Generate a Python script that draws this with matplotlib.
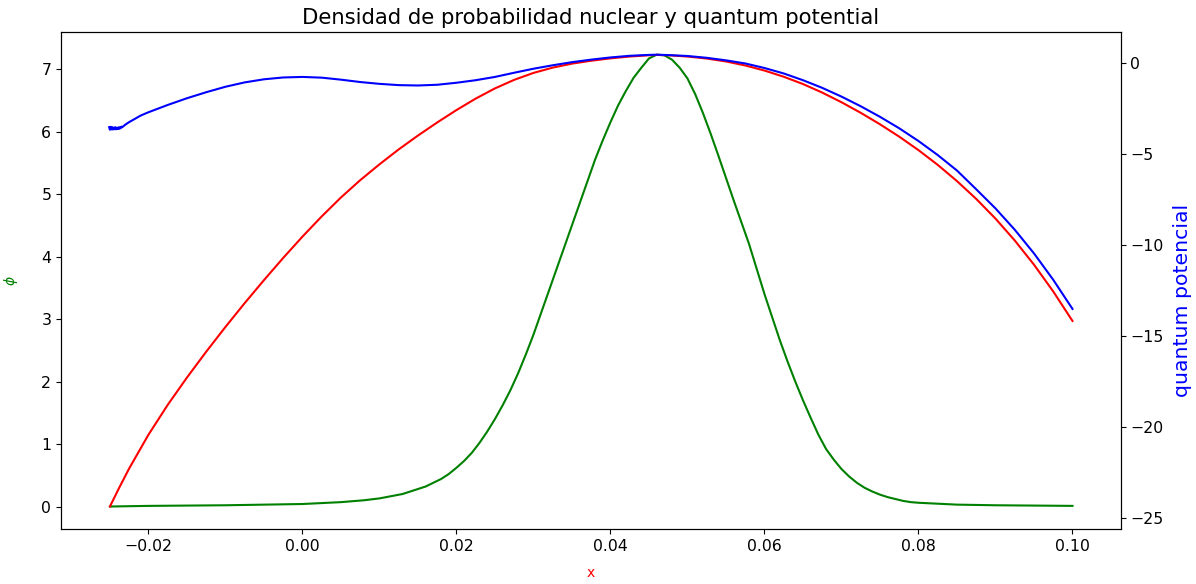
import numpy as np
import matplotlib
matplotlib.use('Agg')
import matplotlib.pyplot as plt

# densidad (eje izquierdo)
x_phi = [-0.025, -0.020, -0.010, 0.000, 0.005, 0.008, 0.010, 0.013, 0.016, 0.017,
         0.018, 0.019, 0.020, 0.021, 0.022, 0.023, 0.024, 0.025, 0.026, 0.027,
         0.028, 0.029, 0.030, 0.031, 0.032, 0.033, 0.034, 0.035, 0.036, 0.037,
         0.038, 0.039, 0.040, 0.041, 0.042, 0.043, 0.044, 0.045, 0.046, 0.047,
         0.048, 0.049, 0.050, 0.051, 0.052, 0.053, 0.054, 0.055, 0.056, 0.057,
         0.058, 0.059, 0.060, 0.061, 0.062, 0.063, 0.064, 0.065, 0.066, 0.067,
         0.068, 0.069, 0.070, 0.071, 0.072, 0.073, 0.074, 0.075, 0.076, 0.077,
         0.078, 0.079, 0.080, 0.085, 0.090, 0.100]
phi = [0.00, 0.01, 0.02, 0.04, 0.07, 0.10, 0.13, 0.20, 0.32, 0.38,
       0.44, 0.52, 0.62, 0.73, 0.86, 1.02, 1.20, 1.40, 1.62, 1.86,
       2.13, 2.43, 2.75, 3.10, 3.45, 3.80, 4.15, 4.50, 4.85, 5.20,
       5.55, 5.86, 6.15, 6.42, 6.65, 6.86, 7.02, 7.17, 7.23, 7.22,
       7.15, 7.02, 6.85, 6.60, 6.30, 5.97, 5.62, 5.26, 4.90, 4.55,
       4.20, 3.80, 3.40, 3.03, 2.66, 2.32, 2.00, 1.70, 1.42, 1.15,
       0.92, 0.75, 0.60, 0.48, 0.38, 0.30, 0.24, 0.19, 0.15, 0.12,
       0.09, 0.07, 0.06, 0.03, 0.02, 0.01]

# curva roja (eje derecho)
x_red = [-0.0250, -0.02375, -0.0225, -0.0200, -0.0175, -0.0150, -0.0125, -0.0100,
         -0.0075, -0.0050, -0.0025, 0.0000, 0.0025, 0.0050, 0.0075, 0.0100,
         0.0125, 0.0150, 0.0175, 0.0200, 0.0225, 0.0250, 0.0275, 0.0300,
         0.0325, 0.0350, 0.0375, 0.0400, 0.0425, 0.0450, 0.0461, 0.0475,
         0.0500, 0.0525, 0.0550, 0.0575, 0.0600, 0.0625, 0.0650, 0.0675,
         0.0700, 0.0725, 0.0750, 0.0775, 0.0800, 0.0825, 0.0850, 0.0875,
         0.0900, 0.0925, 0.0950, 0.0975, 0.1000]
red = [-24.35, -23.28, -22.26, -20.41, -18.77, -17.27, -15.85, -14.49,
       -13.18, -11.92, -10.70, -9.53, -8.42, -7.38, -6.43, -5.56,
       -4.74, -3.98, -3.26, -2.58, -1.95, -1.39, -0.92, -0.54,
       -0.25, -0.03, 0.13, 0.26, 0.36, 0.43, 0.45, 0.43,
       0.36, 0.25, 0.09, -0.13, -0.41, -0.75, -1.15, -1.62,
       -2.15, -2.73, -3.36, -4.04, -4.78, -5.59, -6.48, -7.46,
       -8.54, -9.74, -11.07, -12.54, -14.16]

# quantum potential (eje derecho), con el ruido del principio
x_qp = [-0.0251, -0.0250, -0.0249, -0.0248, -0.0247, -0.0246, -0.0245, -0.0244,
        -0.0243, -0.0242, -0.0241, -0.0240, -0.0239, -0.0238, -0.0237, -0.0236,
        -0.0235, -0.0234, -0.0232, -0.0230,
        -0.0225, -0.0220, -0.0210, -0.0200, -0.0175, -0.0150, -0.0125, -0.0100,
        -0.0075, -0.0050, -0.0025, 0.0000, 0.0025, 0.0050, 0.0075, 0.0100,
        0.0125, 0.0150, 0.0175, 0.0200, 0.0225, 0.0250, 0.0275, 0.0300,
        0.0325, 0.0350, 0.0375, 0.0400, 0.0425, 0.0450, 0.0461, 0.0475,
        0.0500, 0.0525, 0.0550, 0.0575, 0.0600, 0.0625, 0.0650, 0.0675,
        0.0700, 0.0725, 0.0750, 0.0775, 0.0800, 0.0825, 0.0850, 0.0875,
        0.0900, 0.0925, 0.0950, 0.0975, 0.1000]
qp = [-3.52, -3.66, -3.50, -3.64, -3.52, -3.65, -3.54, -3.63,
      -3.52, -3.64, -3.55, -3.62, -3.53, -3.61, -3.52, -3.58,
      -3.49, -3.52, -3.45, -3.38,
      -3.24, -3.12, -2.88, -2.70, -2.30, -1.93, -1.60, -1.30,
      -1.06, -0.89, -0.79, -0.76, -0.80, -0.91, -1.04, -1.14,
      -1.21, -1.23, -1.19, -1.08, -0.94, -0.76, -0.53, -0.31,
      -0.12, 0.05, 0.19, 0.31, 0.40, 0.45, 0.46, 0.44,
      0.39, 0.29, 0.15, -0.02, -0.27, -0.57, -0.94, -1.36,
      -1.84, -2.37, -2.95, -3.58, -4.28, -5.05, -5.90, -6.93,
      -7.98, -9.15, -10.45, -11.90, -13.50]

fig, ax = plt.subplots(figsize=(11.96, 5.84), dpi=100)
fig.subplots_adjust(left=0.051, right=0.937, bottom=0.094, top=0.945)

ax.plot(x_phi, phi, color='g')
ax.set_xlabel('x', color='r', fontsize=10, labelpad=9)
ax.set_ylabel(r'$\phi$', color='g', fontsize=10, labelpad=15)
ax.tick_params(labelsize=11.3)

ax2 = ax.twinx()
ax2.plot(x_red, red, color='r')
ax2.plot(x_qp, qp, color='b')
ax2.set_ylabel('quantum potencial', color='b', fontsize=14.7)
ax2.yaxis.set_label_coords(1.049, 0.46)
ax2.tick_params(labelsize=11.3)

ax.set_title('Densidad de probabilidad nuclear y quantum potential', fontsize=15.2)

fig.savefig('out.png', dpi=100)
